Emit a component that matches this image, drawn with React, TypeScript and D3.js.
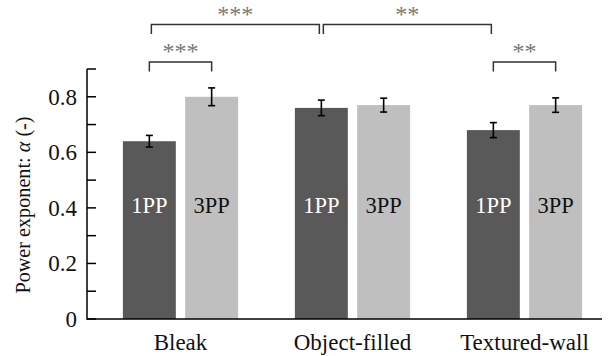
import React from "react";
import * as d3 from "d3";

// chart data
const groups = ["Bleak", "Object-filled", "Textured-wall"];
const conditions = ["1PP", "3PP"];
const means1PP = [0.64, 0.76, 0.68];
const means3PP = [0.8, 0.77, 0.77];
const err1PP = [0.021, 0.028, 0.027];
const err3PP = [0.032, 0.025, 0.026];
const yMajorTicks = [0, 0.2, 0.4, 0.6, 0.8];
const yMinorTicks = [0.1, 0.3, 0.5, 0.7, 0.9];
// significance brackets: [group, condition] pairs, bracket level, label
const sigFrom = [["Bleak", "1PP"], ["Object-filled", "1PP"], ["Bleak", "1PP"], ["Textured-wall", "1PP"]];
const sigTo = [["Object-filled", "1PP"], ["Textured-wall", "1PP"], ["Bleak", "3PP"], ["Textured-wall", "3PP"]];
const sigLevel = [1, 1, 0, 0];
const sigLabel = ["***", "**", "***", "**"];

const W = 608,
  H = 356;
const FONT = "'Liberation Serif', 'Times New Roman', serif";

export default function App() {
  const axisLeft = 87,
    axisRight = 602;

  const x0 = d3.scaleBand().domain(groups).range([94.5, 610.5]).paddingInner(0.33).paddingOuter(0.165);
  const x1 = d3.scaleBand().domain(conditions).range([0, x0.bandwidth()]).paddingInner(0.15);

  const y = d3.scaleLinear().domain([0, 0.9]).range([319, 69]);

  const colors: Record<string, string> = { "1PP": "#595959", "3PP": "#bfbfbf" };
  const labelColors: Record<string, string> = { "1PP": "#ffffff", "3PP": "#111111" };

  const bars = groups.flatMap((g, i) =>
    conditions.map((c) => ({
      g,
      c,
      v: c === "1PP" ? means1PP[i] : means3PP[i],
      e: c === "1PP" ? err1PP[i] : err3PP[i],
    }))
  );

  const cx = (g: string, c: string) => (x0(g) || 0) + (x1(c) || 0) + x1.bandwidth() / 2;
  const levelY = [y(0.925), y(1.06)];
  const legLen = 9.5;

  return (
    <svg width={W} height={H} style={{ position: "absolute", left: 0, top: 0, background: "#fff" }}>
      {/* bars */}
      {bars.map((b) => (
        <rect
          key={b.g + b.c}
          x={(x0(b.g) || 0) + (x1(b.c) || 0)}
          y={y(b.v)}
          width={x1.bandwidth()}
          height={y(0) - y(b.v)}
          fill={colors[b.c]}
        />
      ))}
      {/* bar labels */}
      {bars.map((b) => (
        <text
          key={"l" + b.g + b.c}
          x={cx(b.g, b.c)}
          y={213}
          textAnchor="middle"
          fontFamily={FONT}
          fontSize={22.5}
          fill={labelColors[b.c]}
        >
          {b.c}
        </text>
      ))}
      {/* error bars */}
      {bars.map((b) => {
        const xc = cx(b.g, b.c);
        return (
          <g key={"e" + b.g + b.c} stroke="#000" strokeWidth={1.6}>
            <line x1={xc} x2={xc} y1={y(b.v + b.e)} y2={y(b.v - b.e)} />
            <line x1={xc - 3.5} x2={xc + 3.5} y1={y(b.v + b.e)} y2={y(b.v + b.e)} />
            <line x1={xc - 3.5} x2={xc + 3.5} y1={y(b.v - b.e)} y2={y(b.v - b.e)} />
          </g>
        );
      })}
      {/* axes */}
      <g stroke="#000" strokeWidth={1.5} fill="none">
        <line x1={axisLeft} x2={axisLeft} y1={y(0.9)} y2={y(0) + 0.75} />
        <line x1={axisLeft} x2={axisRight} y1={y(0)} y2={y(0)} />
        {[...yMajorTicks, ...yMinorTicks].map((t) => (
          <line key={"t" + t} x1={axisLeft} x2={axisLeft + 9} y1={y(t)} y2={y(t)} />
        ))}
      </g>
      {yMajorTicks.map((t) => (
        <text
          key={"yl" + t}
          x={axisLeft - 10}
          y={y(t)}
          dy="0.35em"
          textAnchor="end"
          fontFamily={FONT}
          fontSize={23}
          fill="#111"
        >
          {t === 0 ? "0" : d3.format(".1f")(t)}
        </text>
      ))}
      {groups.map((g) => (
        <text
          key={"xl" + g}
          x={(x0(g) || 0) + x0.bandwidth() / 2}
          y={350}
          textAnchor="middle"
          fontFamily={FONT}
          fontSize={23}
          fill="#111"
        >
          {g}
        </text>
      ))}
      <text
        transform={`translate(30,${205}) rotate(-90)`}
        textAnchor="middle"
        fontFamily={FONT}
        fontSize={20.2}
        fill="#111"
      >
        Power exponent: <tspan fontStyle="italic">α</tspan> (-)
      </text>
      {/* significance brackets */}
      {sigLabel.map((lab, i) => {
        const inset = sigLevel[i] === 1 ? 2 : 0;
        const xa = cx(sigFrom[i][0], sigFrom[i][1]) + inset;
        const xb = cx(sigTo[i][0], sigTo[i][1]) - inset;
        const yy = levelY[sigLevel[i]];
        return (
          <g key={"s" + i}>
            <path
              d={`M${xa},${yy + legLen}V${yy}H${xb}V${yy + legLen}`}
              fill="none"
              stroke="#333"
              strokeWidth={1.5}
            />
            <text
              x={(xa + xb) / 2}
              y={yy - 3}
              textAnchor="middle"
              fontFamily={FONT}
              fontSize={24}
              fill="#777"
            >
              {lab}
            </text>
          </g>
        );
      })}
    </svg>
  );
}
